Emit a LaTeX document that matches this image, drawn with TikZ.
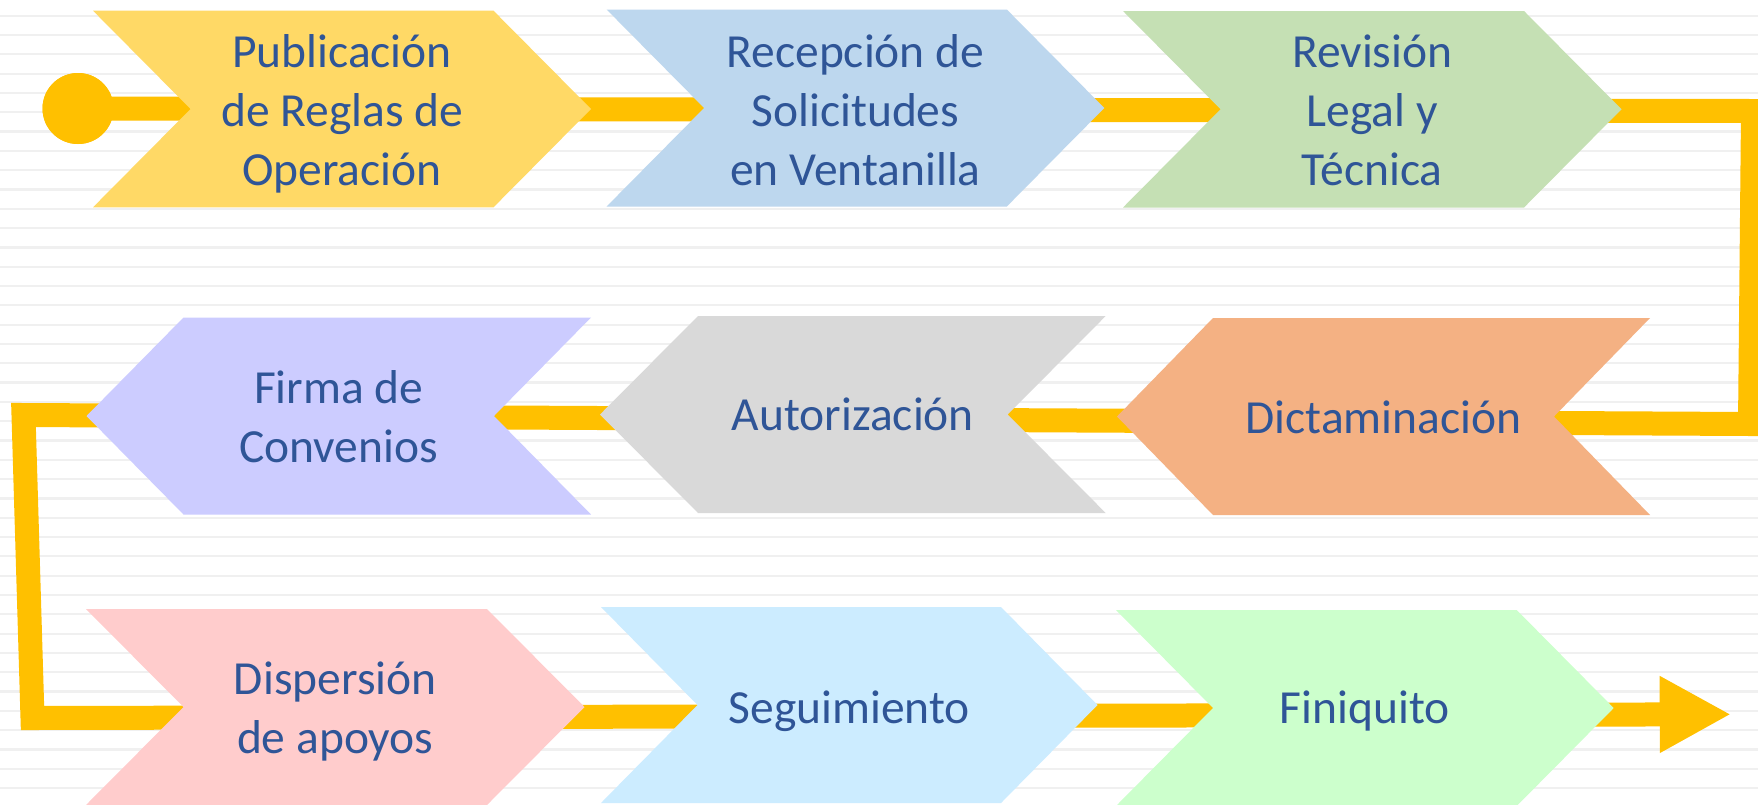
\documentclass[tikz,border=0pt]{standalone}
\usepackage{fontspec}
\setmainfont{Carlito}
\usetikzlibrary{arrows.meta}
\definecolor{flowc}{HTML}{FFC000}
\definecolor{txtc}{HTML}{2F5597}
\definecolor{stripec}{HTML}{F0F0F0}
\definecolor{cA}{HTML}{FFD966}
\definecolor{cB}{HTML}{BDD7EE}
\definecolor{cC}{HTML}{C5E0B4}
\definecolor{cD}{HTML}{CCCCFF}
\definecolor{cE}{HTML}{D9D9D9}
\definecolor{cF}{HTML}{F4B183}
\definecolor{cG}{HTML}{FFCCCC}
\definecolor{cH}{HTML}{CCECFF}
\definecolor{cI}{HTML}{CCFFCC}
% right-pointing chevron: name, x0 (top-left), x1 (top-right), depth, ytop, ybot, colour, text, text offset
\newcommand\chevR[9]{%
  \fill[#7] (#2,#5) -- (#3,#5) -- ({#3+#4},{(#5+#6)/2}) -- (#3,#6) -- (#2,#6) -- ({#2+#4},{(#5+#6)/2}) -- cycle;
  \node[lbl] (#1) at ({(#2+#3+#4)/2},{(#5+#6)/2+#9}) {#8};}
% left-pointing chevron: name, x0 (top-left, after tip), x1 (top-right), depth, ytop, ybot, colour, text, text offset
\newcommand\chevL[9]{%
  \fill[#7] (#2,#5) -- (#3,#5) -- ({#3-#4},{(#5+#6)/2}) -- (#3,#6) -- (#2,#6) -- ({#2-#4},{(#5+#6)/2}) -- cycle;
  \node[lbl] (#1) at ({(#2-#4+#3)/2},{(#5+#6)/2+#9}) {#8};}
\begin{document}
\begin{tikzpicture}[x=1pt,y=-1pt,
  lbl/.style={text=txtc, align=center, inner sep=0pt, font=\fontsize{47.5}{59}\selectfont},
  flow/.style={draw=flowc, line width=24pt, line join=miter},
  stripe/.style={draw=stripec, line width=2.2pt}]
\useasboundingbox (0,0) rectangle (1758,804);
\fill[white] (0,0) rectangle (1758,804);
\foreach \k in {0,...,41} { \draw[stripe] (0,{15.7+19.31*\k}) -- (1758,{15.7+19.31*\k}); }
% flow line
\node[circle, fill=flowc, minimum size=71pt, inner sep=0pt] (start) at (78,108.5) {};
\coordinate (c1) at (1753,111);
\coordinate (c2) at (1750,424);
\coordinate (c3) at (23.5,415);
\coordinate (c4) at (32.5,718);
\coordinate (end) at (1731,714.3);
\draw[flow, -{Triangle[length=71.3pt,width=71.7pt]}] (start.center) -- (c1) -- (c2) -- (c3) -- (c4) -- (end);
\fill[flowc] (start) circle (35.5);
% row 1
\chevR{s1}{93}{493.5}{97.5}{10.7}{207.3}{cA}{Publicación\\de Reglas de\\Operación}{4.5}
\chevR{s2}{606.6}{1006.8}{97.5}{9.5}{206.5}{cB}{Recepción de\\Solicitudes\\en Ventanilla}{2.5}
\chevR{s3}{1123}{1524}{97.5}{11}{207.5}{cC}{Revisión\\Legal y\\Técnica}{1.5}
% row 2
\chevL{s4}{183.5}{591}{97}{317.5}{514.5}{cD}{Firma de\\Convenios}{0.5}
\chevL{s5}{698}{1105.7}{98}{316}{513}{cE}{Autorización}{0}
\chevL{s6}{1213}{1650}{96}{318}{515}{cF}{Dictaminación}{1}
% row 3
\chevR{s7}{86}{487}{97.5}{609}{805}{cG}{Dispersión\\de apoyos}{4.5}
\chevR{s8}{601}{1001}{96.5}{607}{803}{cH}{Seguimiento}{6}
\chevR{s9}{1116}{1516.7}{97}{610}{806}{cI}{Finiquito}{3}
\end{tikzpicture}
\end{document}
